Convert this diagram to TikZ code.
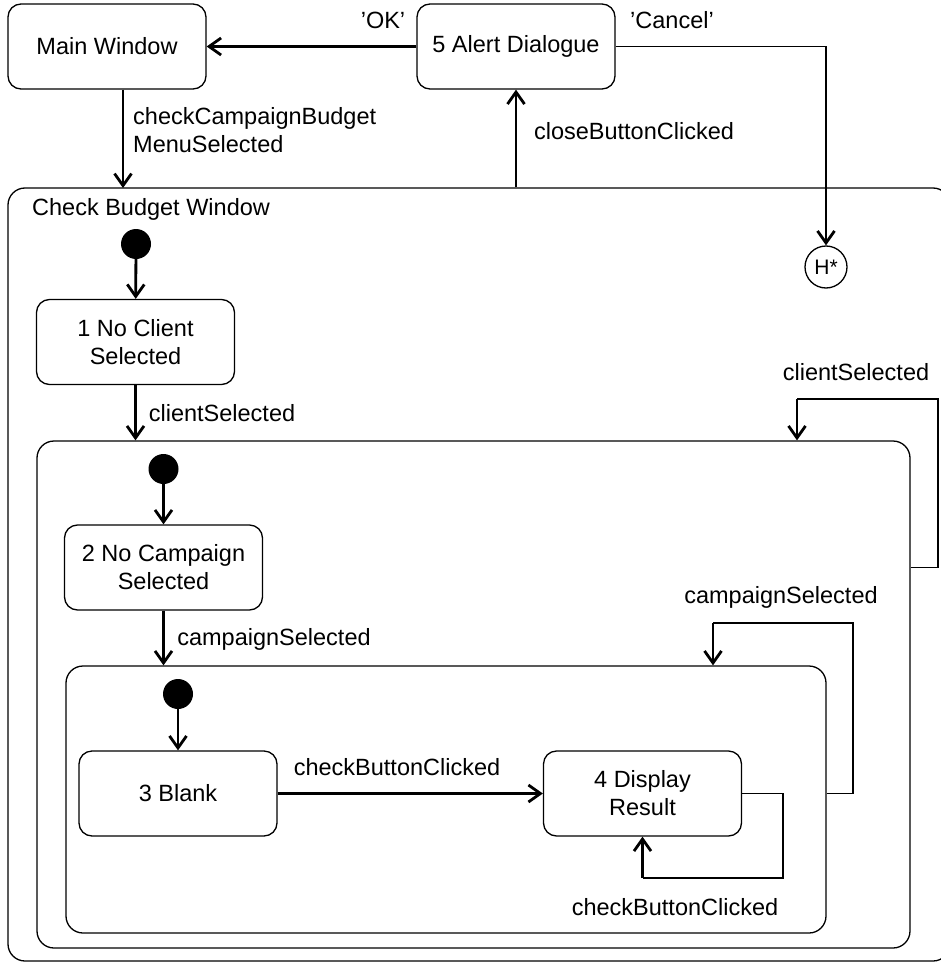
\documentclass[tikz,border=0pt]{standalone}
\usepackage{fontspec}
\setmainfont{Liberation Sans}
\usetikzlibrary{arrows.meta}

\tikzset{
  stato/.style={draw,line width=1.3pt,rounded corners=13pt,minimum width=198pt,minimum height=85pt,align=center,inner sep=0pt},
  composito/.style={draw,line width=1.3pt,rounded corners=17pt,inner sep=0pt},
  iniziale/.style={circle,fill=black,minimum size=30pt,inner sep=0pt},
  storia/.style={circle,draw,line width=1.3pt,minimum size=42pt,inner sep=0pt,font=\fontsize{21}{24}\selectfont},
  etichetta/.style={inner sep=0pt,align=left},
  freccia/.style={-{Straight Barb[length=12pt,width=17pt]},line width=2.8pt},
  linea/.style={line width=1.3pt}
}

\begin{document}
\begin{tikzpicture}[x=1pt,y=-1pt,font=\fontsize{23.5}{28}\selectfont]
        \useasboundingbox (0,0) rectangle (941,963);
        %stati composti
        \node[composito,minimum width=942pt,minimum height=773pt] (esterno) at (479,574.5) {};
        \node[composito,minimum width=873pt,minimum height=507pt] (medio) at (473.5,694.5) {};
        \node[composito,minimum width=760pt,minimum height=267pt] (interno) at (446,799.5) {};
        \node[etichetta,anchor=west] (titolo) at (32,209) {Check Budget Window};
        %stati
        \node[stato] (main) at (107,46.5) {Main Window};
        \node[stato] (alert) at (516,46.5) {5 Alert Dialogue};
        \node[stato] (s1) at (135.5,342) {1 No Client\\Selected};
        \node[stato] (s2) at (163.5,567.5) {2 No Campaign\\Selected};
        \node[stato] (s3) at (178,793.5) {3 Blank};
        \node[stato] (s4) at (642.5,793.5) {4 Display\\Result};
        \node[iniziale] (i1) at (136,244) {};
        \node[iniziale] (i2) at (163.5,469) {};
        \node[iniziale] (i3) at (178,694) {};
        \node[storia] (hist) at (826,267) {H*};
        %transizioni
        \coordinate (a1) at (123,188);
        \draw[freccia] (main.south -| a1) -- (a1);
        \node[etichetta,anchor=west] (l1) at (133,130.5) {checkCampaignBudget\\MenuSelected};
        \draw[freccia] (alert.west) -- (main.east);
        \node[etichetta] (lok) at (383,20) {'OK'};
        \draw[freccia] (alert.south |- esterno.north) -- (alert.south);
        \node[etichetta] (l2) at (634,131) {closeButtonClicked};
        \draw[linea] (alert.east) -- (hist |- alert.east);
        \draw[freccia] (hist |- alert.east) -- (hist.north);
        \node[etichetta] (lcanc) at (672,20) {'Cancel'};
        \draw[freccia] (i1) -- (s1);
        \draw[freccia] (s1) -- (s1 |- medio.north);
        \node[etichetta] (l3) at (222,413) {clientSelected};
        \draw[freccia] (i2) -- (s2);
        \draw[freccia] (s2) -- (s2 |- interno.north);
        \node[etichetta] (l4) at (274,639) {campaignSelected};
        \draw[freccia] (i3) -- (s3);
        \draw[freccia] (s3) -- (s4);
        \node[etichetta] (l5) at (397,767) {checkButtonClicked};
        %autoanelli
        \coordinate (cs) at (797,399);
        \draw[linea] (medio.east |- s2.east) -- (938,567.5) |- (cs);
        \draw[freccia] (cs) -- (cs |- medio.north);
        \node[etichetta] (l6) at (856,372) {clientSelected};
        \coordinate (ca) at (713,623);
        \draw[linea] (interno.east |- s4.east) -- (853,793.5) |- (ca);
        \draw[freccia] (ca) -- (ca |- interno.north);
        \node[etichetta] (l7) at (781,597) {campaignSelected};
        \coordinate (cb) at (642.5,878);
        \draw[linea] (s4.east) -- (783,793.5) |- (cb);
        \draw[freccia] (cb) -- (s4.south);
        \node[etichetta] (l8) at (675,907) {checkButtonClicked};

    \end{tikzpicture}
\end{document}
